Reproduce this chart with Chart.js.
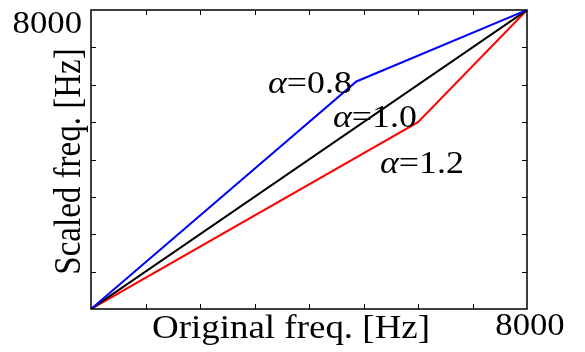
<!DOCTYPE html>
<html><head><meta charset="utf-8">
<script src="https://cdn.jsdelivr.net/npm/chart.js@4"></script>
<style>html,body{margin:0;padding:0;background:#fff}#c{display:block}
.pre{font-family:"Liberation Serif";position:absolute;left:-999px;top:0}</style>
</head><body>
<span class="pre">8000 α=0.8</span><span class="pre" style="font-style:italic">α</span>
<div style="width:585px;height:352px"><canvas id="c" width="585" height="352"></canvas></div>
<script>
const xMin = 0, xMax = 8000;
const yMin = 0, yMax = 8000;
const tickStep = 1000;
const origBlue = [0, 4870, 8000];
const scaledBlue = [0, 6088, 8000];
const origBlack = [0, 8000];
const scaledBlack = [0, 8000];
const origRed = [0, 6000, 8000];
const scaledRed = [0, 5000, 8000];
const seriesNames = ['0.8', '1.0', '1.2'];
const xTickLabels = ['8000'];
const yTickLabels = ['8000'];
const xTitle = 'Original freq. [Hz]';
const yTitle = 'Scaled freq. [Hz]';

const pts = (xs, ys) => xs.map((x, i) => ({x: x, y: ys[i]}));
const FONT = '"Liberation Serif", "Times New Roman", Times, serif';
const SX = 1.12;

function stretchedText(ctx, txt, x, y, align) {
  ctx.save();
  ctx.translate(x, y);
  ctx.scale(SX, 1);
  ctx.textAlign = align;
  ctx.fillText(txt, 0, 0);
  ctx.restore();
}

const deco = {
  id: 'deco',
  afterDatasetsDraw(chart) {
    const ctx = chart.ctx, a = chart.chartArea;
    const xs = chart.scales.x, ys = chart.scales.y;
    ctx.save();
    ctx.strokeStyle = '#000'; ctx.lineWidth = 1.5;
    ctx.strokeRect(a.left, a.top, a.right - a.left, a.bottom - a.top);
    ctx.lineWidth = 1;
    for (let v = xMin + tickStep; v < xMax; v += tickStep) {
      const px = Math.round(xs.getPixelForValue(v)) + 0.5;
      ctx.beginPath(); ctx.moveTo(px, a.bottom); ctx.lineTo(px, a.bottom - 5); ctx.stroke();
      ctx.beginPath(); ctx.moveTo(px, a.top); ctx.lineTo(px, a.top + 5); ctx.stroke();
    }
    for (let v = yMin + tickStep; v < yMax; v += tickStep) {
      const py = Math.round(ys.getPixelForValue(v)) + 0.5;
      ctx.beginPath(); ctx.moveTo(a.left, py); ctx.lineTo(a.left + 5, py); ctx.stroke();
      ctx.beginPath(); ctx.moveTo(a.right, py); ctx.lineTo(a.right - 5, py); ctx.stroke();
    }
    ctx.fillStyle = '#000';
    ctx.textBaseline = 'alphabetic';
    ctx.font = '31px ' + FONT;
    stretchedText(ctx, yTickLabels[0], a.left - 9, ys.getPixelForValue(yMax) + 23, 'right');
    stretchedText(ctx, xTickLabels[0], xs.getPixelForValue(xMax) + 3, a.bottom + 26, 'center');
    ctx.font = '33px ' + FONT;
    stretchedText(ctx, xTitle, 291, a.bottom + 29, 'center');
    ctx.save();
    ctx.translate(80, 161.5);
    ctx.scale(SX, 1);
    ctx.rotate(-Math.PI / 2);
    ctx.textAlign = 'center';
    ctx.fillText(yTitle, 0, 0);
    ctx.restore();
    const ann = [[268, 93], [333, 127], [380, 173]];
    ann.forEach((p, i) => {
      ctx.save();
      ctx.translate(p[0], p[1]);
      ctx.scale(SX, 1);
      ctx.textAlign = 'left';
      ctx.font = 'italic 32px ' + FONT;
      ctx.fillText('\u03b1', 0, 0);
      const w = ctx.measureText('\u03b1').width;
      ctx.font = '32px ' + FONT;
      ctx.fillText('=' + seriesNames[i], w, 0);
      ctx.restore();
    });
    ctx.restore();
  }
};

function draw() {
  new Chart(document.getElementById('c'), {
    type: 'line',
    data: {
      datasets: [
        {data: pts(origBlue, scaledBlue), borderColor: '#0000ff', borderWidth: 2, pointRadius: 0, fill: false, tension: 0},
        {data: pts(origBlack, scaledBlack), borderColor: '#000000', borderWidth: 2, pointRadius: 0, fill: false, tension: 0},
        {data: pts(origRed, scaledRed), borderColor: '#ff0000', borderWidth: 2, pointRadius: 0, fill: false, tension: 0}
      ]
    },
    options: {
      responsive: false,
      animation: false,
      layout: {padding: {left: 91, top: 10, right: 58, bottom: 43}},
      plugins: {legend: {display: false}, tooltip: {enabled: false}},
      scales: {
        x: {type: 'linear', min: xMin, max: xMax, display: false},
        y: {type: 'linear', min: yMin, max: yMax, display: false}
      }
    },
    plugins: [deco]
  });
}
Promise.all([
  document.fonts.load('32px "Liberation Serif"'),
  document.fonts.load('italic 32px "Liberation Serif"')
]).then(draw, draw);
</script>
</body></html>
